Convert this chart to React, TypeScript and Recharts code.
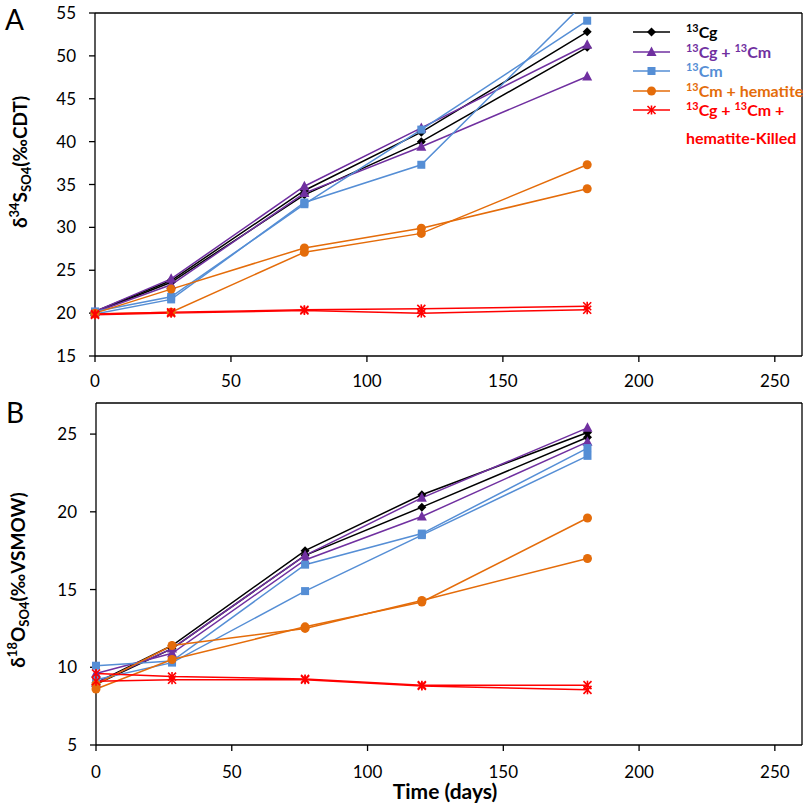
import { LineChart, Line, XAxis, YAxis, ReferenceLine } from 'recharts'

// sampling days
const days = [0, 28, 77, 120, 181]

// panel A: d34S of sulfate (‰ CDT), two replicates per treatment
const cgA1 = [20.2, 23.8, 34.3, 41.1, 52.8]
const cgA2 = [20.1, 23.6, 33.8, 40.0, 51.0]
const cgcmA1 = [20.2, 24.0, 34.8, 41.6, 51.3]
const cgcmA2 = [20.1, 23.3, 34.0, 39.4, 47.6]
const cmA1 = [20.2, 21.9, 32.7, 41.4, 54.1]
const cmA2 = [19.9, 21.6, 32.9, 37.3, 56.5]
const hemA1 = [20.0, 22.8, 27.6, 29.9, 34.5]
const hemA2 = [19.9, 20.1, 27.1, 29.3, 37.3]
const killA1 = [19.9, 20.1, 20.4, 20.5, 20.8]
const killA2 = [19.8, 20.0, 20.3, 20.0, 20.4]

// panel B: d18O of sulfate (‰ VSMOW)
const cgB1 = [9.0, 11.4, 17.5, 21.1, 25.1]
const cgB2 = [8.9, 11.2, 17.2, 20.3, 24.8]
const cgcmB1 = [9.0, 11.2, 17.2, 20.9, 25.4]
const cgcmB2 = [9.6, 10.9, 16.9, 19.7, 24.5]
const cmB1 = [10.1, 10.4, 16.6, 18.6, 24.1]
const cmB2 = [9.2, 10.3, 14.9, 18.5, 23.6]
const hemB1 = [8.9, 11.4, 12.5, 14.3, 17.0]
const hemB2 = [8.6, 10.5, 12.6, 14.2, 19.6]
const killB1 = [9.6, 9.4, 9.25, 8.85, 8.85]
const killB2 = [9.1, 9.2, 9.2, 8.8, 8.55]

const xTicks = [0, 50, 100, 150, 200, 250]
const yTicksA = [15, 20, 25, 30, 35, 40, 45, 50, 55]
const yTicksB = [5, 10, 15, 20, 25]

type Shape = 'diamond' | 'triangle' | 'square' | 'circle' | 'star'

const groups: { key: string; color: string; shape: Shape; a: number[][]; b: number[][] }[] = [
  { key: 'cg', color: '#000000', shape: 'diamond', a: [cgA1, cgA2], b: [cgB1, cgB2] },
  { key: 'cgcm', color: '#7030A0', shape: 'triangle', a: [cgcmA1, cgcmA2], b: [cgcmB1, cgcmB2] },
  { key: 'cm', color: '#558ED5', shape: 'square', a: [cmA1, cmA2], b: [cmB1, cmB2] },
  { key: 'hem', color: '#E46C0A', shape: 'circle', a: [hemA1, hemA2], b: [hemB1, hemB2] },
  { key: 'kill', color: '#FF0000', shape: 'star', a: [killA1, killA2], b: [killB1, killB2] },
]

function buildRows(panel: 'a' | 'b') {
  return days.map((day, i) => {
    const row: Record<string, number> = { day }
    groups.forEach(g => g[panel].forEach((arr, j) => { row[`${g.key}${j}`] = arr[i] }))
    return row
  })
}

const rowsA = buildRows('a')
const rowsB = buildRows('b')

function Marker({ shape, color, cx, cy }: { shape: Shape; color: string; cx: number; cy: number }) {
  if (cx == null || cy == null || isNaN(cy)) return <g />
  switch (shape) {
    case 'diamond':
      return <polygon points={`${cx},${cy - 4.5} ${cx + 4.5},${cy} ${cx},${cy + 4.5} ${cx - 4.5},${cy}`} fill={color} />
    case 'triangle':
      return <polygon points={`${cx},${cy - 5.5} ${cx + 5},${cy + 4} ${cx - 5},${cy + 4}`} fill={color} />
    case 'square':
      return <rect x={cx - 4} y={cy - 4} width={8} height={8} fill={color} />
    case 'circle':
      return <circle cx={cx} cy={cy} r={4.5} fill={color} />
    default:
      return (
        <g stroke={color} strokeWidth={1.6}>
          <line x1={cx - 4} y1={cy - 4} x2={cx + 4} y2={cy + 4} />
          <line x1={cx - 4} y1={cy + 4} x2={cx + 4} y2={cy - 4} />
          <line x1={cx} y1={cy - 4.5} x2={cx} y2={cy + 4.5} />
        </g>
      )
  }
}

const tickStyle = { fill: '#000', fontSize: 17, fontFamily: 'Lato' }
const axisLine = { stroke: '#000', strokeWidth: 1.3 }

function seriesLines() {
  return groups.flatMap(g =>
    [0, 1].map(j => (
      <Line
        key={`${g.key}${j}`}
        type="linear"
        dataKey={`${g.key}${j}`}
        stroke={g.color}
        strokeWidth={1.5}
        activeDot={false}
        isAnimationActive={false}
        dot={(p: any) => <Marker key={`${g.key}${j}-${p.index}`} shape={g.shape} color={g.color} cx={p.cx} cy={p.cy} />}
      />
    ))
  )
}

function supStyle() {
  return { fontSize: '0.68em', verticalAlign: 'super', lineHeight: 0 } as const
}

const legendRows = [
  { key: 'cg', text: <><sup style={supStyle()}>13</sup>Cg</> },
  { key: 'cgcm', text: <><sup style={supStyle()}>13</sup>Cg + <sup style={supStyle()}>13</sup>Cm</> },
  { key: 'cm', text: <><sup style={supStyle()}>13</sup>Cm</> },
  { key: 'hem', text: <><sup style={supStyle()}>13</sup>Cm + hematite</> },
  { key: 'kill', text: <><sup style={supStyle()}>13</sup>Cg + <sup style={supStyle()}>13</sup>Cm +<br />hematite-Killed</> },
]

// rotated svg title: baseline at x, centred on y
function VTitle({ x, y, sup, main, sub, tail }: { x: number; y: number; sup: string; main: string; sub: string; tail: string }) {
  return (
    <text transform={`translate(${x},${y}) rotate(-90)`} textAnchor="middle" fontFamily="Lato" fontWeight={700} fontSize={19} fill="#000">
      δ<tspan fontSize={13} dy={-8}>{sup}</tspan>
      <tspan dy={8}>{main}</tspan>
      <tspan fontSize={13} dy={4}>{sub}</tspan>
      <tspan dy={-4}>{tail}</tspan>
    </text>
  )
}

export default function App() {
  return (
    <div style={{ position: 'absolute', left: 0, top: 0, width: 807, height: 807, background: '#fff', overflow: 'hidden' }}>
      {/* Panel A */}
      <div style={{ position: 'absolute', left: 0, top: 0 }}>
        <LineChart width={807} height={390} data={rowsA} margin={{ top: 13, right: 5, bottom: 0, left: 0 }}>
          <XAxis dataKey="day" type="number" domain={[0, 260]} ticks={xTicks} tick={tickStyle} tickSize={6} tickMargin={13} height={34} axisLine={axisLine} tickLine={axisLine} />
          <YAxis type="number" domain={[15, 55]} ticks={yTicksA} allowDataOverflow tick={tickStyle} tickSize={6} tickMargin={13} width={95} axisLine={axisLine} tickLine={axisLine} />
          <ReferenceLine y={55} stroke="#000" strokeWidth={1.3} />
          <ReferenceLine x={260} stroke="#000" strokeWidth={1.3} />
          {seriesLines()}
        </LineChart>
      </div>

      {/* Panel B */}
      <div style={{ position: 'absolute', left: 0, top: 390 }}>
        <LineChart width={807} height={417} data={rowsB} margin={{ top: 13, right: 5, bottom: 0, left: 0 }}>
          <XAxis dataKey="day" type="number" domain={[0, 260]} ticks={xTicks} tick={tickStyle} tickSize={6} tickMargin={15} height={62} axisLine={axisLine} tickLine={axisLine} />
          <YAxis type="number" domain={[5, 27]} ticks={yTicksB} allowDataOverflow tick={tickStyle} tickSize={6} tickMargin={13} width={96} axisLine={axisLine} tickLine={axisLine} />
          <ReferenceLine y={27} stroke="#000" strokeWidth={1.3} />
          <ReferenceLine x={260} stroke="#000" strokeWidth={1.3} />
          {seriesLines()}
        </LineChart>
      </div>

      {/* panel letters and axis titles */}
      <svg style={{ position: 'absolute', left: 0, top: 0, pointerEvents: 'none' }} width={807} height={807}>
        <text x={5} y={30} fontFamily="Lato" fontSize={28} fill="#000">A</text>
        <text x={6} y={423} fontFamily="Lato" fontSize={28} fill="#000">B</text>
        <VTitle x={27} y={162} sup="34" main="S" sub="SO4" tail="(‰CDT)" />
        <VTitle x={25} y={580} sup="18" main="O" sub="SO4" tail="(‰VSMOW)" />
        <text x={445} y={799} textAnchor="middle" fontFamily="Lato" fontWeight={700} fontSize={21} fill="#000">Time (days)</text>
      </svg>

      {/* legend */}
      {legendRows.map((r, i) => {
        const g = groups.find(x => x.key === r.key)!
        const cy = 32 + i * 19.5
        return (
          <div key={r.key}>
            <svg style={{ position: 'absolute', left: 632, top: cy - 8 }} width={40} height={16}>
              <line x1={1} y1={8} x2={38} y2={8} stroke={g.color} strokeWidth={1.5} />
              <Marker shape={g.shape} color={g.color} cx={19.5} cy={8} />
            </svg>
            <div style={{ position: 'absolute', left: 686, top: cy - 11, fontFamily: 'Lato', fontWeight: 700, fontSize: 16, lineHeight: r.key === 'kill' ? '28px' : '22px', color: g.color, whiteSpace: 'nowrap', marginTop: r.key === 'kill' ? -3 : 0 }}>
              {r.text}
            </div>
          </div>
        )
      })}
    </div>
  )
}
